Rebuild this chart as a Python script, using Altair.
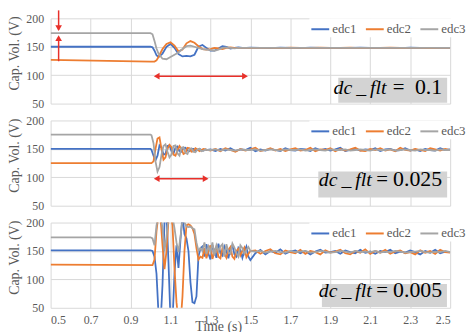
import altair as alt
import pandas as pd

series_names = ["edc1", "edc2", "edc3"]
series_colors = ["#4472C4", "#ED7D31", "#A5A5A5"]
x_ticks = [0.5, 0.7, 0.9, 1.1, 1.3, 1.5, 1.7, 1.9, 2.1, 2.3, 2.5]
y_ticks = [50, 100, 150, 200]
panel_labels = ["0.1", "0.025", "0.005"]

# ---------------- panel 1 : dc_flt = 0.1 ----------------
t1 = [0.5, 1.0, 1.01, 1.02, 1.03, 1.04, 1.06, 1.08, 1.10, 1.12, 1.14, 1.16, 1.18, 1.20,
      1.22, 1.24, 1.26, 1.28, 1.30, 1.32, 1.34, 1.36, 1.38, 1.40, 1.42, 1.44, 1.46, 1.48,
      1.50, 1.55, 1.60, 1.65, 1.70, 1.75, 1.80, 1.85, 1.90, 1.95, 2.00, 2.05, 2.10, 2.15,
      2.20, 2.25, 2.30, 2.35, 2.40, 2.45, 2.50]
edc1_p1 = [150, 150, 149, 143, 135, 132, 138, 150, 155, 148, 137, 133, 134, 133,
           136, 150, 153, 148, 143, 143, 147, 151, 150, 147, 148, 149, 148, 148,
           148.5, 148, 147.6, 148.3, 148, 147.7, 148.4, 148, 148.2, 147.7, 148, 148.5, 147.9, 148.1,
           148, 147.5, 148.3, 148, 148.2, 147.9, 148]
edc2_p1 = [127, 124, 124, 124, 126, 132, 146, 155, 158, 152, 142, 145, 156, 160,
           157, 151, 146, 145, 146, 148, 147, 146, 148, 149, 148, 148, 148, 148,
           147.6, 148.2, 148, 147.6, 148.4, 148, 147.8, 148.3, 147.9, 148, 148.4, 147.7, 148.1, 148,
           148.3, 147.8, 148, 148.2, 147.6, 148.1, 148]
edc3_p1 = [174, 174, 172, 160, 147, 138, 129, 128, 132, 136, 140, 146, 151, 152,
           150, 148, 146, 145, 144, 143, 145, 148, 149, 148, 147, 148, 148, 148,
           148, 148.2, 148, 148.1, 147.9, 148, 148.2, 148, 147.9, 148.1, 148, 148, 148.1, 147.9,
           148, 148.1, 148, 147.9, 148.1, 148, 148]

# ---------------- panel 2 : dc_flt = 0.025 ----------------
t2 = [0.5, 1.0, 1.005, 1.015, 1.025, 1.035, 1.045, 1.055, 1.065, 1.075, 1.085, 1.095, 1.105,
      1.115, 1.125, 1.135, 1.145, 1.155, 1.165, 1.175, 1.185, 1.195, 1.205, 1.215, 1.225,
      1.235, 1.245, 1.255, 1.265, 1.275, 1.285,
      1.300, 1.325, 1.350, 1.375, 1.400, 1.425, 1.450, 1.475, 1.500, 1.525, 1.550, 1.575,
      1.600, 1.625, 1.650, 1.675, 1.700, 1.725, 1.750, 1.775, 1.800, 1.825, 1.850, 1.875,
      1.900, 1.925, 1.950, 1.975, 2.000, 2.025, 2.050, 2.075, 2.100, 2.125, 2.150, 2.175,
      2.200, 2.225, 2.250, 2.275, 2.300, 2.325, 2.350, 2.375, 2.400, 2.425, 2.450, 2.475, 2.500]
edc1_p2 = [150, 150, 148, 138, 130, 138, 156, 152, 140, 141, 155, 156, 146,
           142, 152, 154, 146, 145, 151, 152, 147, 146, 150, 150, 147, 148, 150, 148, 147, 149, 148,
           149, 146, 150, 147, 151, 146, 149,
           148, 152, 146, 149, 147, 150, 148,
           146, 151, 148, 147, 150, 149, 146,
           151, 148, 150, 147, 149, 152, 146,
           148, 150, 147, 149, 148, 151, 146,
           149, 150, 147, 148, 151, 147, 149,
           146, 150, 148, 147, 151, 148, 149]
edc2_p2 = [125, 125, 125, 128, 150, 168, 170, 150, 131, 135, 150, 157, 153,
           140, 138, 148, 155, 150, 141, 143, 152, 151, 145, 146, 151, 149, 146, 148, 150, 149, 148,
           147, 150, 146, 151, 148, 145, 150,
           147, 149, 152, 146, 148, 151, 147,
           150, 146, 149, 151, 147, 148, 152,
           146, 149, 148, 151, 146, 150, 147,
           149, 152, 147, 146, 150, 148, 151,
           147, 149, 146, 152, 148, 147, 150,
           148, 146, 151, 149, 147, 150, 148]
edc3_p2 = [175, 175, 174, 160, 128, 110, 118, 140, 155, 158, 145, 135, 140,
           155, 156, 142, 138, 152, 153, 143, 141, 150, 151, 145, 144, 149, 150, 146, 147, 149, 148,
           148, 149, 147, 149, 148, 147, 149,
           148, 148, 149, 147, 148, 149, 148,
           147, 149, 148, 148, 149, 147, 148,
           149, 148, 147, 149, 148, 148, 149,
           147, 148, 149, 148, 147, 149, 148,
           148, 149, 147, 148, 149, 148, 147,
           149, 148, 148, 147, 149, 148, 148]

# ---------------- panel 3 : dc_flt = 0.005 ----------------
t3 = [0.5, 1.00, 1.01, 1.02, 1.03, 1.04, 1.05, 1.06, 1.07, 1.08, 1.09, 1.10, 1.11, 1.12,
      1.13, 1.14, 1.15, 1.16, 1.17, 1.18, 1.19, 1.20, 1.21, 1.22, 1.23, 1.24, 1.25,
      1.26, 1.27, 1.28, 1.29, 1.30, 1.31, 1.32, 1.33, 1.34, 1.35, 1.36, 1.37, 1.38, 1.39,
      1.40, 1.41, 1.42, 1.43, 1.44, 1.45, 1.46, 1.47, 1.48, 1.49, 1.50,
      1.525, 1.55, 1.575, 1.60, 1.625, 1.65, 1.675, 1.70, 1.725, 1.75, 1.775, 1.80,
      1.825, 1.85, 1.875, 1.90, 1.925, 1.95, 1.975, 2.00, 2.025, 2.05, 2.075, 2.10,
      2.125, 2.15, 2.175, 2.20, 2.225, 2.25, 2.275, 2.30, 2.325, 2.35, 2.375, 2.40,
      2.425, 2.45, 2.475, 2.50]
edc1_p3 = [151, 151, 150, 140, 110, 40, 20, 90, 200, 215, 130, 30, 25, 110,
           160, 120, 170, 212, 180, 172, 150, 95, 60, 58, 70, 140, 155,
           158, 140, 162, 145, 135, 160, 150, 138, 163, 146, 142, 158, 150, 137, 155,
           160, 144, 140, 156, 152, 138, 150, 158, 140, 134,
           146, 152, 144, 150, 147, 153, 145, 149,
           151, 146, 150, 144, 149, 152, 147, 148,
           150, 145, 151, 148, 146, 152, 147, 149,
           145, 150, 148, 152, 146, 149, 147, 151,
           148, 144, 150, 147, 152, 146, 149, 148]
edc2_p3 = [126, 125, 125, 135, 185, 215, 210, 160, 118, 150, 205, 215, 195, 120,
           60, 25, 20, 70, 150, 195, 197, 195, 190, 180, 155, 135, 140,
           138, 155, 137, 150, 160, 136, 148, 158, 140, 137, 155, 145, 138, 152, 157,
           140, 136, 150, 154, 142, 150, 156, 139, 145, 150,
           151, 145, 150, 153, 146, 144, 151, 148,
           146, 152, 145, 150, 148, 144, 151, 147,
           149, 152, 146, 144, 150, 147, 153, 145,
           150, 147, 152, 145, 149, 151, 146, 148,
           144, 151, 147, 150, 145, 152, 148, 147]
edc3_p3 = [174, 174, 172, 160, 195, 210, 215, 190, 150, 175, 210, 215, 210, 190,
           165, 148, 175, 205, 200, 193, 192, 193, 190, 188, 165, 150, 155,
           150, 165, 145, 158, 148, 165, 142, 160, 150, 158, 162, 140, 162, 148, 145,
           163, 156, 146, 140, 160, 155, 145, 152, 157, 150,
           149, 150, 147, 149, 150, 148, 147, 150,
           148, 149, 150, 147, 148, 150, 149, 147,
           148, 150, 149, 147, 150, 148, 149, 148,
           150, 147, 149, 148, 150, 149, 147, 148,
           149, 150, 148, 147, 149, 148, 150, 148]

# ---------------- annotations (data coordinates) ----------------
box_t0 = [1.94, 1.84, 1.858]
box_t1 = [2.485, 2.485, 2.484]
box_v0 = [51.7, 64.3, 51.3]
box_v1 = [95.3, 110.3, 91.9]
italic_t = [2.182, 2.108, 2.108]
eq_t = [2.242, 2.160, 2.160]
num_t = [2.460, 2.460, 2.460]
text_v = [66, 84.5, 68.7]
harrow_t0 = [1.031, 1.031]
harrow_t1 = [1.473, 1.276]
harrow_v = [98.3, 97.6]
varrow_t = [0.54, 0.54]
varrow_from = [214, 124.5]
varrow_to = [180, 166]
vhead_v = [182.6, 165.1]
vhead_shape = ["triangle-down", "triangle-up"]

RED = "#E8302A"
SERIF = "Liberation Serif, Times New Roman, serif"
GRAY_TXT = "#595959"


def line_df(times, e1, e2, e3):
    assert len(times) == len(e1) == len(e2) == len(e3), (len(times), len(e1), len(e2), len(e3))
    rows = []
    for name, vals in zip(series_names, (e1, e2, e3)):
        for i, (t, v) in enumerate(zip(times, vals)):
            rows.append({"t": t, "v": v, "series": name, "i": i})
    return pd.DataFrame(rows)


xs = alt.Scale(domain=[0.5, 2.5], nice=False, zero=False)
ys = alt.Scale(domain=[50, 200], nice=False, zero=False)
Y_AXIS = alt.Axis(values=y_ticks, grid=True, title="Cap. Vol. (V)", labelPadding=7,
                  titlePadding=4, titleY=35)
X_AXIS_TOP = alt.Axis(values=x_ticks, grid=True, labels=False, title=None)
X_AXIS_BOTTOM = alt.Axis(values=x_ticks, format=".1f", grid=True, labels=True,
                         title="Time (s)", labelPadding=7, titleX=169, titleY=12,
                         titleBaseline="top", titleAlign="center")


def panel(k, df, bottom):
    x_axis = X_AXIS_BOTTOM if bottom else X_AXIS_TOP
    XQ = alt.X("t:Q", scale=xs, axis=x_axis)
    YQ = alt.Y("v:Q", scale=ys, axis=Y_AXIS)
    legend = alt.Legend(orient="none", legendX=261, legendY=0, direction="horizontal",
                        title=None, symbolType="stroke", symbolSize=324, symbolStrokeWidth=2,
                        labelFont=SERIF, labelFontSize=13, labelColor=GRAY_TXT,
                        labelOffset=2, columnPadding=5, fillColor="white", padding=1)
    lines = alt.Chart(df).mark_line(strokeWidth=1.8, clip=True).encode(
        x=XQ, y=YQ,
        color=alt.Color("series:N", scale=alt.Scale(domain=series_names, range=series_colors),
                        legend=legend),
        order="i:Q",
    )
    bdf = pd.DataFrame({"t": [box_t0[k]], "t1": [box_t1[k]], "v": [box_v0[k]], "v1": [box_v1[k]]})
    box = alt.Chart(bdf).mark_rect(color="#D3D3D3").encode(x=XQ, x2="t1:Q", y=YQ, y2="v1:Q")
    tdf = pd.DataFrame({"t": [italic_t[k], eq_t[k], num_t[k]], "v": [text_v[k]] * 3,
                        "s": ["dc\u2009_\u2009flt", "=", panel_labels[k]]})
    txt_i = alt.Chart(tdf.iloc[[0]]).mark_text(font=SERIF, fontStyle="italic", fontSize=20,
                                               align="right", baseline="alphabetic",
                                               color="black").encode(x=XQ, y=YQ, text="s:N")
    txt_e = alt.Chart(tdf.iloc[[1]]).mark_text(font=SERIF, fontSize=21, align="center",
                                               baseline="alphabetic",
                                               color="black").encode(x=XQ, y=YQ, text="s:N")
    txt_n = alt.Chart(tdf.iloc[[2]]).mark_text(font=SERIF, fontSize=22, align="right",
                                               baseline="alphabetic",
                                               color="black").encode(x=XQ, y=YQ, text="s:N")
    layers = [lines, box, txt_i, txt_e, txt_n]

    if k < 2:
        hdf = pd.DataFrame({"t": [harrow_t0[k]], "t1": [harrow_t1[k]], "v": [harrow_v[k]]})
        hline = alt.Chart(hdf).mark_rule(color=RED, strokeWidth=1.5).encode(x=XQ, x2="t1:Q", y=YQ)
        heads = pd.DataFrame({"t": [harrow_t0[k], harrow_t1[k]], "v": [harrow_v[k]] * 2,
                              "shape": ["triangle-left", "triangle-right"]})
        hhead = alt.Chart(heads).mark_point(filled=True, color=RED, opacity=1, size=45).encode(
            x=XQ, y=YQ, shape=alt.Shape("shape:N", scale=None, legend=None))
        layers += [hline, hhead]
    if k == 0:
        vdf = pd.DataFrame({"t": varrow_t, "v": varrow_from, "v1": varrow_to})
        vline = alt.Chart(vdf).mark_rule(color=RED, strokeWidth=1.5).encode(x=XQ, y=YQ, y2="v1:Q")
        vh = pd.DataFrame({"t": varrow_t, "v": vhead_v, "shape": vhead_shape})
        vhead = alt.Chart(vh).mark_point(filled=True, color=RED, opacity=1, size=45).encode(
            x=XQ, y=YQ, shape=alt.Shape("shape:N", scale=None, legend=None))
        layers += [vline, vhead]
    return alt.layer(*layers).properties(width=403, height=86)


p1 = panel(0, line_df(t1, edc1_p1, edc2_p1, edc3_p1), False)
p2 = panel(1, line_df(t2, edc1_p2, edc2_p2, edc3_p2), False)
p3 = panel(2, line_df(t3, edc1_p3, edc2_p3, edc3_p3), True)

chart = (
    alt.vconcat(p1, p2, p3, spacing=17, bounds="flush")
    .resolve_scale(color="independent")
    .properties(padding=0)
    .configure_view(stroke=None)
    .configure_axis(gridColor="#D9D9D9", gridWidth=1, domain=False, ticks=False,
                    labelFont=SERIF, labelFontSize=12, labelColor=GRAY_TXT,
                    titleFont=SERIF, titleFontSize=14, titleFontWeight="normal",
                    titleColor=GRAY_TXT)
)

chart.save("out.html", embed_options={"renderer": "svg", "actions": False})
